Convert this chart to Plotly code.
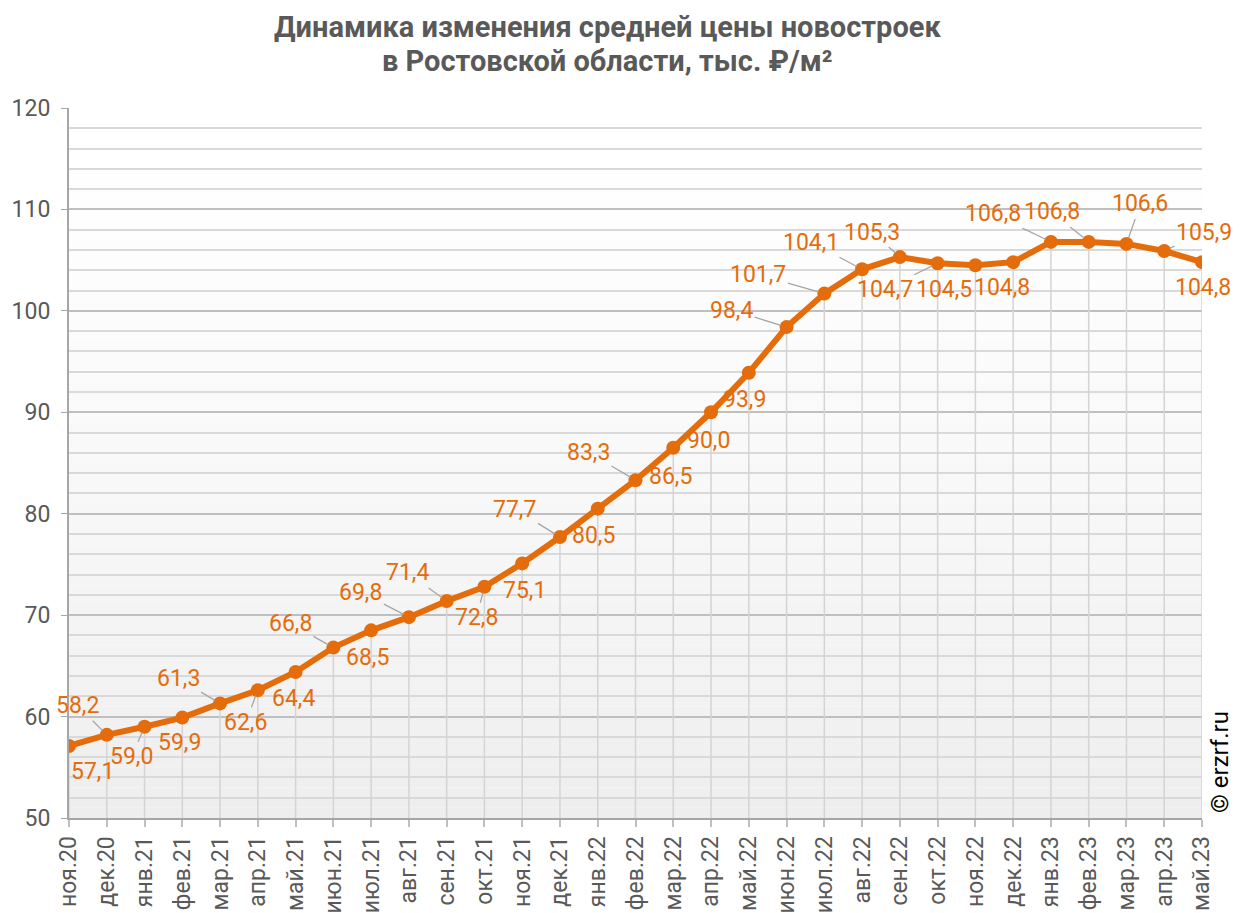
import plotly.graph_objects as go

# Months (Nov 2020 - May 2023) and average price, thousand RUB per m2
months = ["ноя.20", "дек.20", "янв.21", "фев.21", "мар.21", "апр.21", "май.21",
          "июн.21", "июл.21", "авг.21", "сен.21", "окт.21", "ноя.21", "дек.21",
          "янв.22", "фев.22", "мар.22", "апр.22", "май.22", "июн.22", "июл.22",
          "авг.22", "сен.22", "окт.22", "ноя.22", "дек.22", "янв.23", "фев.23",
          "мар.23", "апр.23", "май.23"]
prices = [57.1, 58.2, 59.0, 59.9, 61.3, 62.6, 64.4, 66.8, 68.5, 69.8, 71.4,
          72.8, 75.1, 77.7, 80.5, 83.3, 86.5, 90.0, 93.9, 98.4, 101.7, 104.1,
          105.3, 104.7, 104.5, 104.8, 106.8, 106.8, 106.6, 105.9, 104.8]

ORANGE = "#E46C0A"
GREY_TXT = "#595959"

# label offsets in px (dx, dy) and whether a leader line is drawn
label_pos = [(23, 26, 0), (-29, -29, 1), (-13, 30, 1), (-3, 25, 0), (-42, -25, 1),
             (-12, 32, 1), (-2, 27, 0), (-43, -24, 1), (-4, 27, 0), (-48, -25, 1),
             (-39, -28, 1), (-8, 31, 1), (2, 27, 0), (-45, -28, 1), (-4, 27, 0),
             (-47, -28, 1), (-3, 29, 0), (-3, 28, 0), (-4, 27, 0), (-55, -17, 1),
             (-66, -19, 1), (-51, -27, 1), (-28, -25, 1), (-53, 26, 1), (-31, 24, 0),
             (-11, 25, 0), (-58, -28, 1), (-37, -30, 1), (14, -40, 1), (40, -19, 1),
             (1, 25, 0)]

fig = go.Figure()

# gradient background in the plot area (white on top -> light grey at bottom)
n_bands = 70
for k in range(n_bands):
    t = k / (n_bands - 1)
    c = int(round(255 - 17 * (1 - t) ** 1.4))
    fig.add_shape(type="rect", xref="paper", yref="y", x0=0, x1=1,
                  y0=50 + k, y1=51 + k, line_width=0,
                  fillcolor=f"rgb({c},{c},{c})", layer="below")

# vertical drop lines from points to the axis
fig.add_trace(go.Scatter(
    x=months, y=prices, mode="markers",
    marker=dict(size=1, color="rgba(0,0,0,0)"),
    error_y=dict(type="data", symmetric=False, array=[0] * len(prices),
                 arrayminus=[p - 50 for p in prices], color="#d4d4d4",
                 thickness=1.5, width=0),
    hoverinfo="skip", showlegend=False))

fig.add_trace(go.Scatter(
    x=months, y=prices, mode="lines+markers",
    line=dict(color=ORANGE, width=6),
    marker=dict(size=14, color=ORANGE),
    showlegend=False))

for m, p, (dx, dy, lead) in zip(months, prices, label_pos):
    fig.add_annotation(
        x=m, y=p, text=f"{p:.1f}".replace(".", ","),
        showarrow=True, ax=dx, ay=dy, arrowhead=0, arrowwidth=1.3,
        arrowcolor="#a6a6a6" if lead else "rgba(0,0,0,0)", standoff=6,
        font=dict(family="Roboto", size=23, color=ORANGE))

fig.add_annotation(text="<b>Динамика изменения средней цены новостроек</b>",
                   xref="paper", yref="paper", x=0.475, y=1.114,
                   xanchor="center", yanchor="middle",
                   showarrow=False, font=dict(family="Roboto", size=29, color=GREY_TXT))
fig.add_annotation(text="<b>в Ростовской области, тыс. ₽/м²</b>",
                   xref="paper", yref="paper", x=0.475, y=1.066,
                   xanchor="center", yanchor="middle",
                   showarrow=False, font=dict(family="Roboto", size=29, color=GREY_TXT))
fig.add_annotation(text="© erzrf.ru", xref="paper", yref="paper",
                   x=1.016, y=0.079, xanchor="center", yanchor="middle",
                   textangle=-90, showarrow=False,
                   font=dict(family="Roboto", size=24, color="black"))

fig.update_layout(
    width=1246, height=913,
    margin=dict(l=69, r=44, t=108, b=95),
    paper_bgcolor="white", plot_bgcolor="white",
    font=dict(family="Roboto", size=23, color=GREY_TXT),
    xaxis=dict(type="category", range=[0, len(months) - 1], tickangle=-90,
               automargin=False,
               showgrid=False, showline=True, linecolor="#a6a6a6", linewidth=2,
               ticks="outside", ticklen=7, tickcolor="#bfbfbf", tickwidth=1.5,
               tickfont=dict(size=23, color=GREY_TXT)),
    yaxis=dict(range=[50, 120], dtick=10, showgrid=True, gridcolor="#bfbfbf",
               automargin=False, ticklabelstandoff=6,
               gridwidth=1.5, zeroline=False, showline=True, linecolor="#a6a6a6",
               linewidth=2, ticks="outside", ticklen=6, tickcolor="#a6a6a6",
               tickfont=dict(size=23, color=GREY_TXT),
               minor=dict(dtick=2, showgrid=True, gridcolor="#d9d9d9", gridwidth=1.5)),
)

fig.write_html("out.html", config={"displayModeBar": False},
               post_script="document.body.style.margin='0';")
